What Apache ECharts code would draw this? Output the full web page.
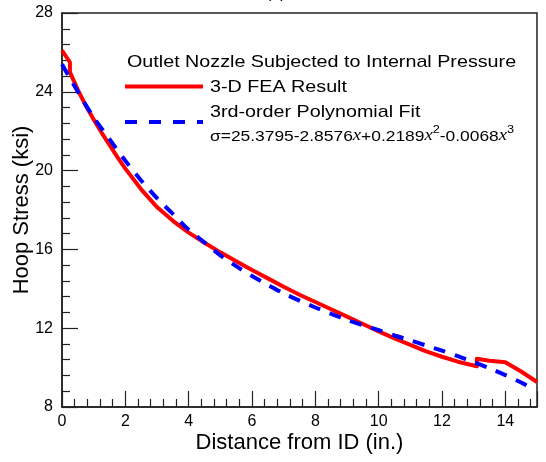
<!DOCTYPE html>
<html><head><meta charset="utf-8">
<script src="https://cdn.jsdelivr.net/npm/echarts@6/dist/echarts.min.js"></script>
<style>html,body{margin:0;padding:0;background:#fff}#c{width:546px;height:462px}</style>
</head><body><div id="c"></div>
<script>
// FEA result (x in inches, hoop stress in ksi)
const feaX = [0, 0.25, 0.25, 0.5, 0.75, 1, 1.25, 1.5, 1.75, 2, 2.5, 3, 3.5, 4, 4.5, 5, 5.5, 6, 6.5, 7, 7.5, 8, 8.5, 9, 9.5, 10, 10.5, 11, 11.5, 12, 12.5, 13.1, 13.1, 13.5, 14, 14.5, 15];
const feaY = [26.1, 25.5, 25.0, 24.1, 23.3, 22.6, 21.93, 21.3, 20.68, 20.1, 19.05, 18.15, 17.45, 16.85, 16.34, 15.85, 15.4, 14.95, 14.53, 14.1, 13.7, 13.33, 12.96, 12.59, 12.21, 11.84, 11.48, 11.15, 10.82, 10.55, 10.3, 10.07, 10.45, 10.35, 10.27, 9.8, 9.27];
// Polynomial fit
const fitX = [0, 0.5, 1, 1.5, 2, 2.5, 3, 3.5, 4, 4.5, 5, 5.5, 6, 6.5, 7, 7.5, 8, 8.5, 9, 9.5, 10, 10.5, 11, 11.5, 12, 12.5, 13, 13.5, 14, 14.5, 14.8];
const fitY = [25.4, 24.0, 22.7, 21.6, 20.5, 19.5, 18.6, 17.8, 17.0, 16.35, 15.7, 15.15, 14.65, 14.2, 13.77, 13.4, 13.05, 12.73, 12.43, 12.15, 11.9, 11.63, 11.38, 11.12, 10.86, 10.58, 10.28, 9.96, 9.62, 9.24, 9.0];
const xTicks = [0, 2, 4, 6, 8, 10, 12, 14];
const yTicks = [8, 12, 16, 20, 24, 28];
const seriesNames = ['3-D FEA Result', '3rd-order Polynomial Fit'];
const legendTitle = 'Outlet Nozzle Subjected to Internal Pressure';

const F = 'Liberation Sans, Arial, sans-serif';
const SX = 1.16;
const chart = echarts.init(document.getElementById('c'));
const pair = (xs, ys) => xs.map((x, i) => [x, ys[i]]);
const txt = (x, y, s, size) => ({ type: 'text', x: x, y: y, scaleX: SX, originX: 0, originY: 0,
  style: { x: 0, y: 0, text: s, font: size + 'px ' + F, fill: '#000', verticalAlign: 'middle' } });
chart.setOption({
  animation: false,
  grid: { left: 62, right: 9, top: 13, bottom: 55, containLabel: false, outerBoundsMode: 'none',
    show: true, borderColor: '#222', borderWidth: 1.5 },
  xAxis: {
    type: 'value', min: 0, max: 15, interval: 2,
    name: 'Distance from ID (in.)', nameLocation: 'middle', nameGap: 25, nameMoveOverlap: false,
    nameTextStyle: { fontFamily: F, fontSize: 22, color: '#000' },
    axisLine: { lineStyle: { color: '#222', width: 1.5 } },
    axisTick: { inside: true, length: 16, lineStyle: { color: '#222', width: 1.2 } },
    minorTick: { show: true, splitNumber: 5, length: 8, lineStyle: { color: '#222', width: 1.2 } },
    axisLabel: { fontFamily: F, fontSize: 16, color: '#000', margin: 7,
      formatter: v => xTicks.includes(v) ? String(v) : '' },
    splitLine: { show: false }
  },
  yAxis: {
    type: 'value', min: 8, max: 28, interval: 4,
    name: 'Hoop Stress (ksi)', nameLocation: 'middle', nameGap: 29, nameMoveOverlap: false,
    nameTextStyle: { fontFamily: F, fontSize: 22, color: '#000' },
    axisLine: { lineStyle: { color: '#222', width: 1.5 } },
    axisTick: { inside: true, length: 16, lineStyle: { color: '#222', width: 1.2 } },
    minorTick: { show: true, splitNumber: 5, length: 8, lineStyle: { color: '#222', width: 1.2 } },
    axisLabel: { fontFamily: F, fontSize: 16, color: '#000', margin: 9,
      formatter: v => yTicks.includes(v) ? String(v) : '' },
    splitLine: { show: false }
  },
  series: [
    { name: seriesNames[0], type: 'line', data: pair(feaX, feaY), showSymbol: false, symbol: 'none',
      lineStyle: { color: '#ff0000', width: 4, join: 'round' }, z: 3 },
    { name: seriesNames[1], type: 'line', data: pair(fitX, fitY), showSymbol: false, symbol: 'none', smooth: 0.3,
      lineStyle: { color: '#0000ff', width: 4, type: [12, 10] }, z: 4 }
  ],
  graphic: [
    { type: 'text', x: 266, y: -14, style: { text: '(a)', font: '16px ' + F, fill: '#000' } },
    txt(127, 62, legendTitle, 17),
    { type: 'line', shape: { x1: 125, y1: 86.5, x2: 203, y2: 86.5 }, style: { stroke: '#ff0000', lineWidth: 4 } },
    txt(210, 87, seriesNames[0], 17),
    { type: 'line', shape: { x1: 125, y1: 122, x2: 203, y2: 122 }, style: { stroke: '#0000ff', lineWidth: 4, lineDash: [12, 12] } },
    txt(210, 112, seriesNames[1], 17),
    { type: 'text', x: 210, y: 124, scaleX: SX, originX: 0, originY: 0, style: {
      x: 0, y: 0,
      text: '{n|σ=25.3795-2.8576}{x|x}{n|+0.2189}{x|x}{s|2}{n|-0.0068}{x|x}{s|3}',
      rich: {
        n: { fontFamily: F, fontSize: 15, color: '#000', lineHeight: 20, verticalAlign: 'bottom' },
        x: { fontFamily: 'Liberation Serif, Times New Roman, serif', fontStyle: 'italic', fontSize: 16, color: '#000', lineHeight: 20, verticalAlign: 'bottom' },
        s: { fontFamily: F, fontSize: 11, color: '#000', lineHeight: 20, verticalAlign: 'top' }
      } } }
  ]
});
</script></body></html>
